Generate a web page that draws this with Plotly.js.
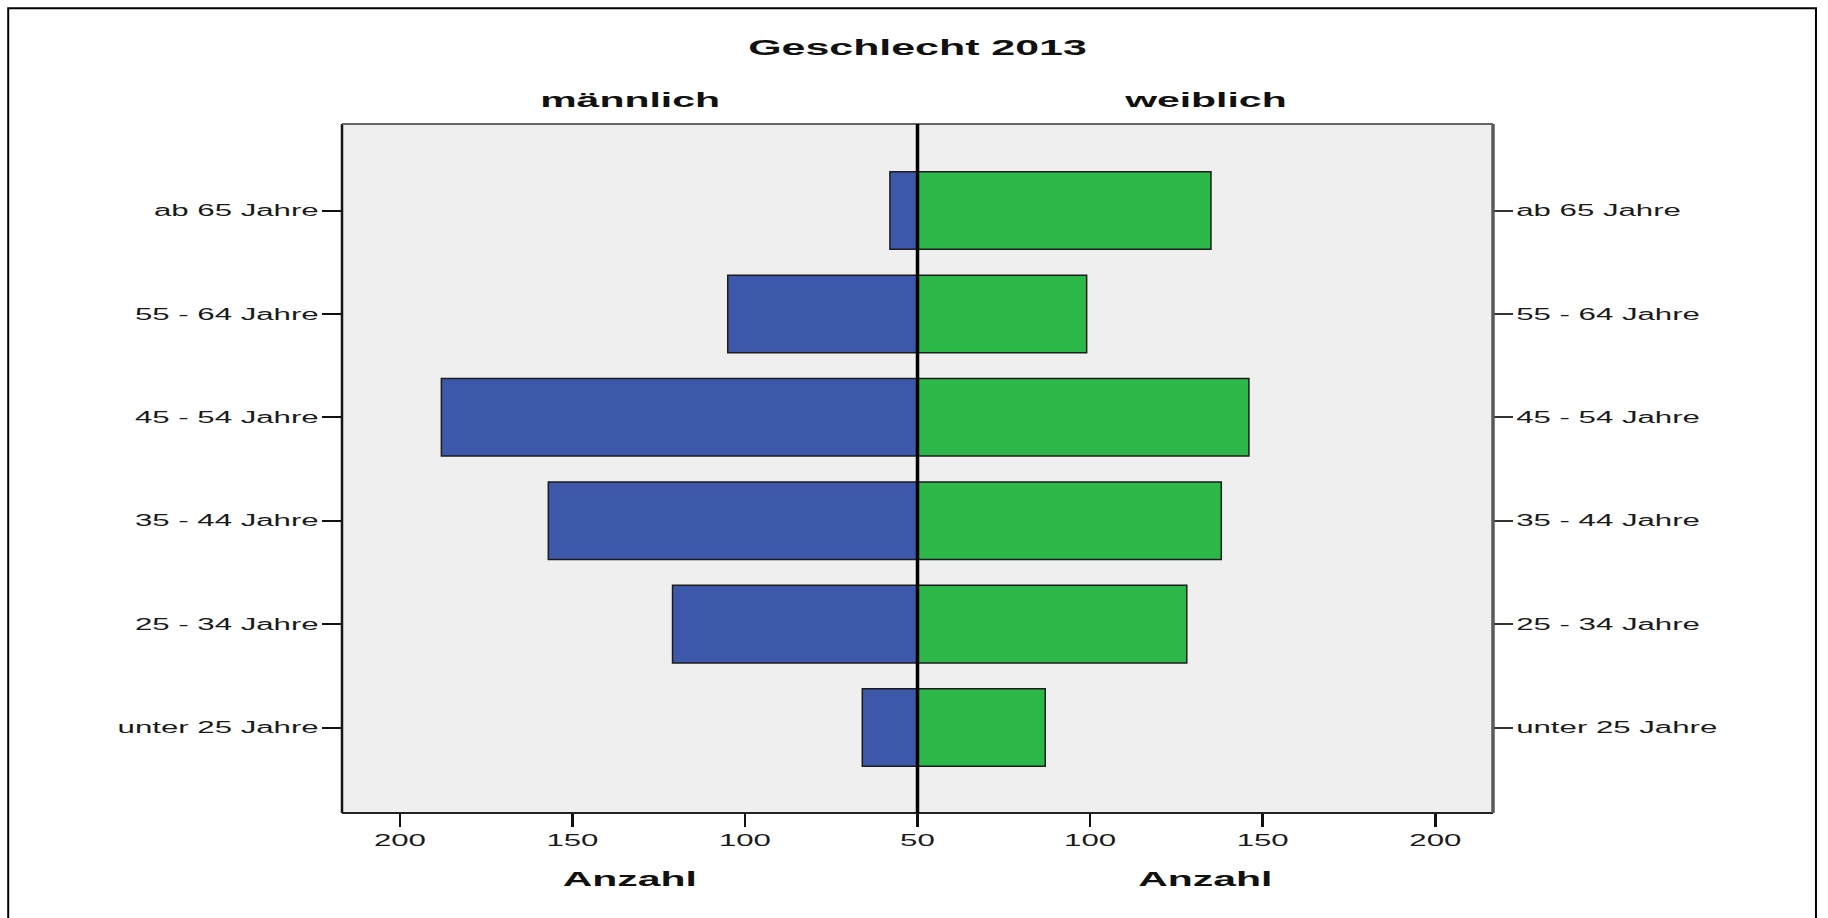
<!DOCTYPE html>
<html>
<head>
<meta charset="utf-8">
<script src="https://cdn.plot.ly/plotly-3.0.1.min.js"></script>
<style>
  html, body { margin: 0; padding: 0; background: #fff; }
</style>
</head>
<body>
<div id="myDiv" style="width:1828px;height:918px;"></div>
<script>
// age groups, bottom to top
var ageGroups = ['unter 25 Jahre', '25 - 34 Jahre', '35 - 44 Jahre', '45 - 54 Jahre', '55 - 64 Jahre', 'ab 65 Jahre'];
var maleCounts = [66, 121, 157, 188, 105, 58];
var femaleCounts = [87, 128, 138, 146, 99, 135];
var axisTicks = [50, 100, 150, 200];
var leftTickText = ['50', '100', '150', '200'];
var rightTickText = ['', '100', '150', '200'];

var tickFont = {family: 'Liberation Sans, Arial, sans-serif', size: 16, color: '#1a1a1a'};
var boldFont = {family: 'Liberation Sans, Arial, sans-serif', size: 21, color: '#111', weight: 'bold'};

// bars start at 0; the axes begin at 50, so the plot edge cuts them at the centre line
var male = {
  y: ageGroups,
  x: maleCounts,
  name: 'männlich',
  type: 'bar',
  orientation: 'h',
  xaxis: 'x',
  yaxis: 'y',
  width: 0.75,
  marker: {color: '#3d58aa', line: {color: '#1c1c1c', width: 1.5}},
  hoverinfo: 'none'
};

var female = {
  y: ageGroups,
  x: femaleCounts,
  name: 'weiblich',
  type: 'bar',
  orientation: 'h',
  xaxis: 'x2',
  yaxis: 'y2',
  width: 0.75,
  marker: {color: '#2db84a', line: {color: '#1c1c1c', width: 1.5}},
  hoverinfo: 'none'
};

var data = [male, female];

var layout = {
  width: 1828,
  height: 918,
  margin: {l: 342, r: 335, t: 124, b: 105},
  paper_bgcolor: '#ffffff',
  plot_bgcolor: '#efefef',
  showlegend: false,
  bargap: 0.25,
  title: {
    text: 'Geschlecht 2013',
    font: {family: boldFont.family, size: 22, color: '#111', weight: 'bold'},
    x: 0.5, xref: 'paper', xanchor: 'center',
    y: 0.949, yref: 'container', yanchor: 'middle'
  },
  xaxis: {
    domain: [0, 0.5],
    range: [216.8, 50],
    tickvals: axisTicks,
    ticktext: leftTickText,
    ticks: 'outside', ticklen: 13, tickwidth: 2.5, tickcolor: '#111',
    tickfont: tickFont,
    showgrid: false, zeroline: false, showline: false,
    title: {text: 'Anzahl', font: boldFont, standoff: 23}
  },
  xaxis2: {
    domain: [0.5, 1],
    range: [50, 216.7],
    anchor: 'y2',
    tickvals: axisTicks,
    ticktext: rightTickText,
    ticks: 'outside', ticklen: 13, tickwidth: 2.5, tickcolor: '#111',
    tickfont: tickFont,
    showgrid: false, zeroline: false, showline: false,
    title: {text: 'Anzahl', font: boldFont, standoff: 23}
  },
  yaxis: {
    type: 'category',
    categoryorder: 'array',
    categoryarray: ageGroups,
    range: [-0.827, 5.837],
    anchor: 'x',
    side: 'left',
    ticks: 'outside', ticklen: 19, tickwidth: 2, tickcolor: '#111',
    tickfont: tickFont,
    showgrid: false, zeroline: false, showline: false
  },
  yaxis2: {
    type: 'category',
    categoryorder: 'array',
    categoryarray: ageGroups,
    range: [-0.827, 5.837],
    anchor: 'x2',
    overlaying: 'y',
    side: 'right',
    ticks: 'outside', ticklen: 19, tickwidth: 2, tickcolor: '#333',
    tickfont: tickFont,
    showgrid: false, zeroline: false, showline: false
  },
  annotations: [
    {text: 'männlich', xref: 'paper', yref: 'paper', x: 0.25, y: 1.036, xanchor: 'center', yanchor: 'middle', showarrow: false, font: boldFont},
    {text: 'weiblich', xref: 'paper', yref: 'paper', x: 0.75, y: 1.036, xanchor: 'center', yanchor: 'middle', showarrow: false, font: boldFont}
  ],
  shapes: [
    // plot frame
    {type: 'line', xref: 'paper', yref: 'paper', x0: 0, x1: 0, y0: 0, y1: 1, line: {color: '#151515', width: 2.5}},
    {type: 'line', xref: 'paper', yref: 'paper', x0: 0, x1: 1, y0: 0, y1: 0, line: {color: '#222', width: 2}},
    {type: 'line', xref: 'paper', yref: 'paper', x0: 0, x1: 1, y0: 1, y1: 1, line: {color: '#666', width: 2}},
    {type: 'line', xref: 'paper', yref: 'paper', x0: 1, x1: 1, y0: 0, y1: 1, line: {color: '#5a5a5a', width: 3.5}},
    // centre line
    {type: 'line', xref: 'paper', yref: 'paper', x0: 0.5, x1: 0.5, y0: 0, y1: 1, line: {color: '#000', width: 3.5}},
    // outer chart border
    {type: 'rect', xref: 'paper', yref: 'paper', x0: -0.290, x1: 1.2806, y0: -0.17, y1: 1.168, line: {color: '#000', width: 2}, fillcolor: 'rgba(0,0,0,0)'}
  ]
};

// the reference text is drawn wide, so stretch every label sideways around its anchor
function stretchText(gd, s) {
  gd.querySelectorAll('text').forEach(function (t) {
    if (!t.textContent) return;
    var b = t.getBBox();
    var anchor = t.getAttribute('text-anchor') || window.getComputedStyle(t).textAnchor;
    var ax = anchor === 'end' ? b.x + b.width : (anchor === 'middle' ? b.x + b.width / 2 : b.x);
    var old = t.getAttribute('transform') || '';
    t.setAttribute('transform', old + ' translate(' + ax + ',0) scale(' + s + ',1) translate(' + (-ax) + ',0)');
  });
}

Plotly.newPlot('myDiv', data, layout, {displayModeBar: false, staticPlot: true}).then(function (gd) {
  stretchText(gd, 1.95);
});
</script>
</body>
</html>
